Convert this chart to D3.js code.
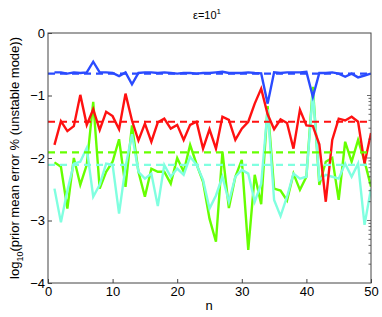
<!DOCTYPE html>
<html>
<head>
<meta charset="utf-8">
<script src="https://cdn.jsdelivr.net/npm/d3@7"></script>
<style>
  html, body { margin: 0; padding: 0; background: #fff; }
  svg { display: block; font-family: "Liberation Sans", Arial, sans-serif; }
</style>
</head>
<body>
<div id="container"></div>
<script>
"use strict";

// n = 1..50
const nValues = d3.range(1, 51);

// log10 of prior mean error for each run
const blueSeries = [
  -0.63, -0.63, -0.65, -0.63, -0.64, -0.63, -0.46, -0.63, -0.63, -0.64,
  -0.69, -0.63, -0.82, -0.64, -0.63, -0.63, -0.64, -0.63, -0.64, -0.65,
  -0.64, -0.64, -0.65, -0.64, -0.64, -0.63, -0.62, -0.64, -0.64, -0.64,
  -0.63, -0.64, -0.645, -1.13, -0.63, -0.64, -0.63, -0.63, -0.63, -0.62,
  -1.02, -0.64, -0.64, -0.63, -0.65, -0.70, -0.65, -0.71, -0.68, -0.65
];
const redSeries = [
  -1.79, -1.41, -1.57, -1.49, -0.99, -1.47, -1.22, -1.55, -1.26, -1.33,
  -1.54, -0.97, -1.40, -1.72, -1.45, -1.74, -1.43, -1.37, -1.53, -1.47,
  -1.71, -1.47, -1.42, -1.85, -1.54, -1.85, -1.34, -1.39, -1.71, -1.53,
  -1.42, -1.13, -0.89, -1.30, -1.54, -1.38, -1.44, -1.85, -1.23, -1.48,
  -1.49, -1.78, -2.70, -1.71, -1.37, -1.40, -1.34, -1.42, -2.09, -1.60
];
const greenSeries = [
  -2.07, -2.14, -2.81, -2.00, -2.43, -2.11, -1.10, -2.49, -2.22, -2.06,
  -1.70, -2.46, -1.48, -2.22, -2.62, -2.17, -2.22, -2.22, -2.41, -2.00,
  -2.22, -1.79, -2.10, -2.38, -2.97, -3.34, -1.90, -2.80, -2.30, -2.03,
  -3.47, -2.27, -2.74, -1.17, -2.49, -2.52, -2.68, -2.25, -2.51, -2.30,
  -0.86, -2.43, -2.06, -2.00, -2.67, -1.74, -2.06, -1.71, -2.05, -2.46
];
const cyanSeries = [
  -2.49, -3.03, -2.52, -2.09, -2.06, -1.84, -2.62, -2.43, -2.09, -2.11,
  -2.89, -2.14, -1.62, -2.22, -2.33, -2.25, -2.77, -2.11, -2.30, -2.17,
  -2.27, -1.98, -2.11, -2.35, -2.81, -2.60, -2.30, -2.70, -2.30, -2.19,
  -2.25, -2.70, -2.41, -1.22, -2.67, -2.93, -2.62, -2.25, -2.33, -2.30,
  -0.94, -2.35, -2.27, -2.30, -2.33, -2.09, -2.30, -2.09, -3.07, -2.49
];

// dashed mean levels
const meanLevels = [-0.65, -1.42, -1.91, -2.11];

const seriesNames = ["green", "cyan", "red", "blue"];
const seriesData = [greenSeries, cyanSeries, redSeries, blueSeries];
const seriesColors = ["#66ff00", "#80ffe0", "#ff1111", "#2a4bff"];
const meanColors = ["#2a4bff", "#ff1111", "#66ff00", "#80ffe0"];

const xTicks = [0, 10, 20, 30, 40, 50];
const yTicks = [0, -1, -2, -3, -4];

const W = 382, H = 317;
const margin = { top: 33, right: 11, bottom: 34, left: 48 };
const width = W - margin.left - margin.right;
const height = H - margin.top - margin.bottom;

const svg = d3.select("#container")
  .append("svg")
  .attr("width", W)
  .attr("height", H);

const g = svg.append("g")
  .attr("transform", `translate(${margin.left}, ${margin.top})`);

const x = d3.scaleLinear().domain([0, 50]).range([0, width]);
const y = d3.scaleLinear().domain([-4, 0]).range([height, 0]);

g.append("clipPath").attr("id", "plotclip")
  .append("rect").attr("width", width).attr("height", height);

const plot = g.append("g").attr("clip-path", "url(#plotclip)");

const line = d3.line()
  .x((d, i) => x(nValues[i]))
  .y((d) => y(d));

// series lines
seriesData.forEach((s, k) => {
  plot.append("path")
    .datum(s)
    .attr("fill", "none")
    .attr("stroke", seriesColors[k])
    .attr("stroke-width", 2.4)
    .attr("stroke-linejoin", "miter")
    .attr("d", line);
});

// dashed means
plot.selectAll(".mean")
  .data(meanLevels)
  .join("line")
  .attr("class", "mean")
  .attr("x1", 0)
  .attr("x2", width)
  .attr("y1", (d) => y(d))
  .attr("y2", (d) => y(d))
  .attr("stroke", (d, i) => meanColors[i])
  .attr("stroke-width", 2.2)
  .attr("stroke-dasharray", "7,5");

// frame
const axisColor = "#444";
g.append("rect")
  .attr("width", width)
  .attr("height", height)
  .attr("fill", "none")
  .attr("stroke", axisColor)
  .attr("stroke-width", 1);

// bottom axis, ticks inward
const xAxis = g.append("g")
  .attr("transform", `translate(0, ${height})`)
  .call(d3.axisBottom(x).tickValues(xTicks).tickSize(-4).tickPadding(4).tickFormat(d3.format("d")));
xAxis.select(".domain").remove();
xAxis.selectAll("line").attr("stroke", axisColor);
xAxis.selectAll("text").attr("fill", "#000").style("font-size", "13px").attr("dy", "0.72em");

// left axis, ticks inward
const yAxis = g.append("g")
  .call(d3.axisLeft(y).tickValues(yTicks).tickSize(-4).tickPadding(3)
    .tickFormat((d) => (d < 0 ? "\u2212" + Math.abs(d) : d)));
yAxis.select(".domain").remove();
yAxis.selectAll("line").attr("stroke", axisColor);
yAxis.selectAll("text").attr("fill", "#000").style("font-size", "13px");

// right side log-style minor ticks
const rightTicks = [];
[-1, -2, -3].forEach((top) => {
  rightTicks.push({ v: top, len: 4 });
  for (let k = 2; k <= 9; k++) {
    rightTicks.push({ v: top - 1 + Math.log10(k), len: 2.5 });
  }
});
g.append("g")
  .selectAll("line")
  .data(rightTicks)
  .join("line")
  .attr("x1", width)
  .attr("x2", (d) => width - d.len)
  .attr("y1", (d) => y(d.v))
  .attr("y2", (d) => y(d.v))
  .attr("stroke", axisColor)
  .attr("stroke-width", 0.8);

// title
const title = svg.append("text")
  .attr("x", 207)
  .attr("y", 19)
  .attr("text-anchor", "middle")
  .style("font-size", "11px");
title.append("tspan").text("\u03b5=10");
title.append("tspan").attr("dy", -5).style("font-size", "8px").text("1");

// x label
svg.append("text")
  .attr("x", 209)
  .attr("y", 310)
  .attr("text-anchor", "middle")
  .style("font-size", "13px")
  .text("n");

// y label
const ylab = svg.append("text")
  .attr("transform", `translate(19, ${margin.top + height / 2}) rotate(-90)`)
  .attr("text-anchor", "middle")
  .style("font-size", "13px");
ylab.append("tspan").text("log");
ylab.append("tspan").attr("dy", 4).style("font-size", "9px").text("10");
ylab.append("tspan").attr("dy", -4).text("(prior mean error % (unstable mode))");
</script>
</body>
</html>
